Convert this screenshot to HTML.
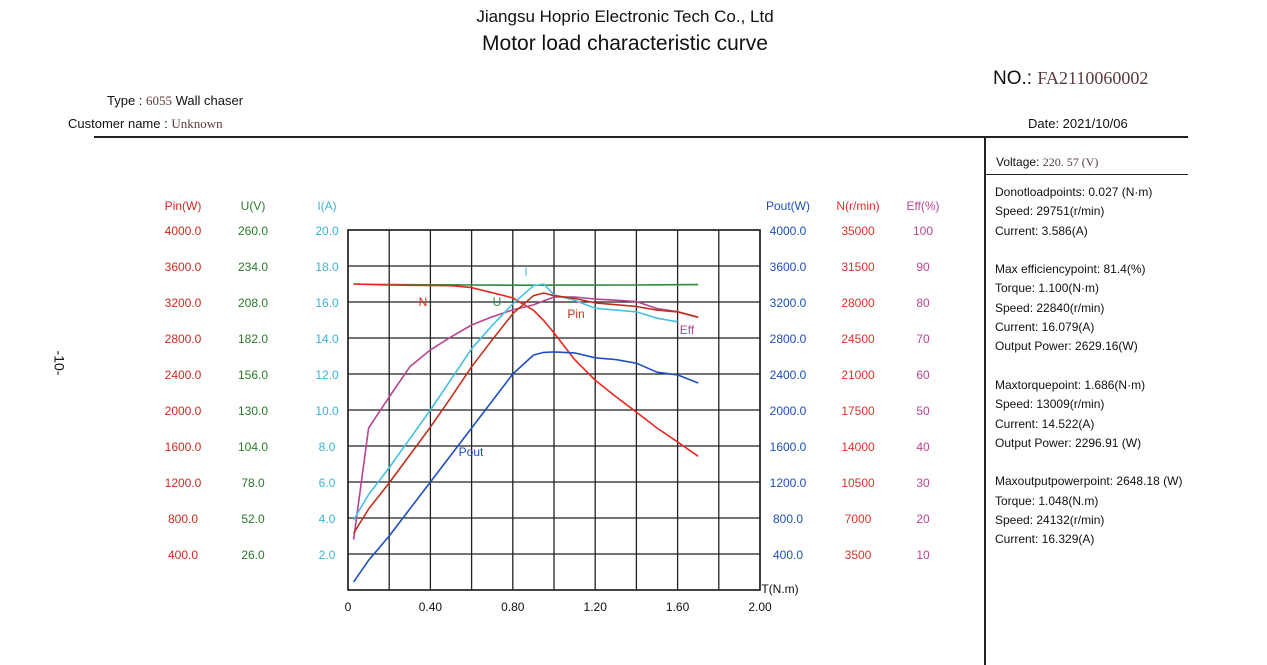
<!DOCTYPE html>
<html><head><meta charset="utf-8">
<style>
body{margin:0;background:#fff;font-family:"Liberation Sans","Noto Sans CJK SC",sans-serif;}
#wrap{position:relative;width:1267px;height:665px;overflow:hidden;}
.t{position:absolute;white-space:nowrap;font-size:13px;color:#111;}
.serif{font-family:"Liberation Serif",serif;color:#5a3a3a;}
</style></head><body>
<div id="wrap">
<div class="t" style="left:0;width:1250px;text-align:center;top:7px;font-size:17px;">Jiangsu Hoprio Electronic Tech Co., Ltd</div>
<div class="t" style="left:0;width:1250px;text-align:center;top:32px;font-size:21px;">Motor load characteristic curve</div>
<div class="t" style="left:993px;top:68px;font-size:19px;">NO.: <span class="serif" style="font-size:18px;">FA2110060002</span></div>
<div class="t" style="left:107px;top:93px;">Type : <span class="serif">6055</span> Wall chaser</div>
<div class="t" style="left:68px;top:116px;">Customer name : <span class="serif">Unknown</span></div>
<div class="t" style="left:1028px;top:116px;">Date: 2021/10/06</div>
<div class="t" style="left:47px;top:355px;transform:rotate(90deg);font-size:14px;">-10-</div>
<div style="position:absolute;left:94px;top:136px;width:1094px;height:2px;background:#222;"></div>
<div style="position:absolute;left:984px;top:137px;width:2px;height:528px;background:#222;"></div>
<div style="position:absolute;left:985px;top:174px;width:203px;height:1px;background:#222;"></div>
<div class="t" style="left:996px;top:155px;font-size:12px;">Voltage: <span class="serif">220. 57 (V)</span></div>
<div class="t" style="left:995px;top:183px;font-size:12px;line-height:19.3px;">
Donotloadpoints: 0.027 (N·m)<br>Speed: 29751(r/min)<br>Current: 3.586(A)<br><br>
Max efficiencypoint: 81.4(%)<br>Torque: 1.100(N·m)<br>Speed: 22840(r/min)<br>Current: 16.079(A)<br>Output Power: 2629.16(W)<br><br>
Maxtorquepoint: 1.686(N·m)<br>Speed: 13009(r/min)<br>Current: 14.522(A)<br>Output Power: 2296.91 (W)<br><br>
Maxoutputpowerpoint: 2648.18 (W)<br>Torque: 1.048(N.m)<br>Speed: 24132(r/min)<br>Current: 16.329(A)</div>
<svg id="chart" width="1267" height="665" style="position:absolute;left:0;top:0;" font-family="Liberation Sans, sans-serif" font-size="12"></svg>
</div>
<script>
const torque=[0.027,0.1,0.2,0.3,0.4,0.5,0.6,0.7,0.8,0.9,0.95,1.0,1.1,1.2,1.3,1.4,1.5,1.6,1.7];
const pout=[90,330,600,900,1200,1500,1800,2100,2400,2610,2640,2645,2635,2580,2560,2520,2420,2390,2300];
const pin=[630,900,1190,1500,1810,2140,2480,2780,3070,3270,3300,3270,3240,3190,3170,3150,3110,3090,3030];
const current=[3.9,5.3,6.8,8.4,10.0,11.7,13.4,14.7,15.9,16.9,17.0,16.4,16.1,15.65,15.55,15.45,15.1,14.9,null];
const voltage=[221,220.8,220.6,220.5,220.4,220.4,220.3,220.2,220.1,220.1,220.1,220.2,220.2,220.2,220.3,220.3,220.4,220.5,220.6];
const speed=[29751,29700,29650,29620,29600,29580,29400,28900,28400,27200,26200,25000,22400,20400,18800,17300,15750,14400,13000];
const eff=[14,45,53.6,62,66.7,70.3,73.6,75.9,77.8,79.2,80.3,81.4,81.4,80.8,80.5,80.1,78.2,77.3,75.8];
const xTicks=["0","0.40","0.80","1.20","1.60","2.00"];
const pinTicks=["4000.0","3600.0","3200.0","2800.0","2400.0","2000.0","1600.0","1200.0","800.0","400.0"];
const uTicks=["260.0","234.0","208.0","182.0","156.0","130.0","104.0","78.0","52.0","26.0"];
const iTicks=["20.0","18.0","16.0","14.0","12.0","10.0","8.0","6.0","4.0","2.0"];
const poutTicks=["4000.0","3600.0","3200.0","2800.0","2400.0","2000.0","1600.0","1200.0","800.0","400.0"];
const nTicks=["35000","31500","28000","24500","21000","17500","14000","10500","7000","3500"];
const effTicks=["100","90","80","70","60","50","40","30","20","10"];

const svg=document.getElementById('chart');const NS='http://www.w3.org/2000/svg';
const X0=348,X1=760,Y0=590,Y1=230;
const sx=t=>X0+(X1-X0)*t/2;
const sy=(v,max)=>Y0-(Y0-Y1)*v/max;
function mk(tag,attrs,name){const e=document.createElementNS(NS,tag);for(const k in attrs)e.setAttribute(k,attrs[k]);


svg.appendChild(e);return e;}
function txt(x,y,s,fill,name,anchor){const e=mk('text',{x:x,y:y,fill:fill,'text-anchor':anchor||'middle'},name);e.textContent=s;return e;}
for(let i=0;i<=10;i++){const x=X0+i*(X1-X0)/10;mk('line',{x1:x,y1:Y1,x2:x,y2:Y0,stroke:'#222','stroke-width':1.3},'grid-vline');}
for(let i=0;i<=10;i++){const y=Y1+i*(Y0-Y1)/10;mk('line',{x1:X0,y1:y,x2:X1,y2:y,stroke:'#222','stroke-width':1.3},'grid-hline');}
mk('rect',{x:X0,y:Y1,width:X1-X0,height:Y0-Y1,fill:'none',stroke:'#222','stroke-width':1.6},'plot-frame');
xTicks.forEach((s,i)=>txt(sx(i*0.4),611,s,'#111','x-tick-label'));
txt(780,593,'T(N.m)','#111','x-axis-title');
const cols=[[183,'#cc2a22',pinTicks,'Pin(W)','pin-axis'],[253,'#2a7a2a',uTicks,'U(V)','u-axis'],[327,'#3ab4d6',iTicks,'I(A)','i-axis'],
[788,'#1f4fb5',poutTicks,'Pout(W)','pout-axis'],[858,'#e2302a',nTicks,'N(r/min)','n-axis'],[923,'#b8458f',effTicks,'Eff(%)','eff-axis']];
cols.forEach(c=>{txt(c[0],210,c[3],c[1],c[4]+'-title');c[2].forEach((s,i)=>txt(c[0],235+i*36,s,c[1],c[4]+'-tick'));});
function series(vals,max,color,name,w){let d='';vals.forEach((v,i)=>{if(v==null)return;d+=(d?'L':'M')+sx(torque[i]).toFixed(1)+','+sy(v,max).toFixed(1);});
mk('path',{d:d,fill:'none',stroke:color,'stroke-width':w||1.6,'stroke-linejoin':'round'},name);}
series(voltage,260,'#2e8b3a','voltage-curve');
series(speed,35000,'#e8281e','speed-curve');
series(eff,100,'#b8458f','efficiency-curve');
series(current,20,'#45c0e0','current-curve');
series(pin,4000,'#c0301e','input-power-curve');
series(pout,4000,'#1f4fc0','output-power-curve');
txt(423,306,'N','#e8281e','speed-label');
txt(497,306,'U','#2e8b3a','voltage-label');
txt(526,276,'I','#45c0e0','current-label');
txt(576,318,'Pin','#c0301e','input-power-label');
txt(687,334,'Eff','#b8458f','efficiency-label');
txt(471,456,'Pout','#1f4fc0','output-power-label');
</script>
</body></html>
